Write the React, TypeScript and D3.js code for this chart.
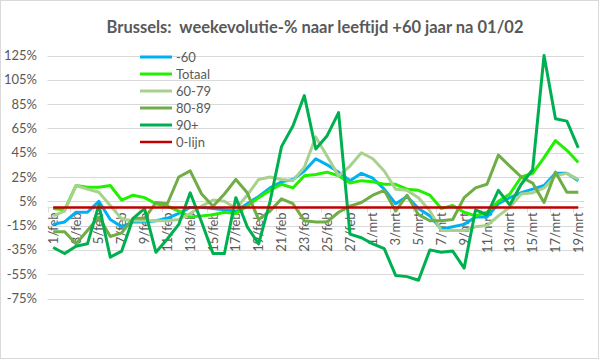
import React from 'react';
import * as d3 from 'd3';

// dates on the category axis
const categories = [
  '1/feb', '2/feb', '3/feb', '4/feb', '5/feb', '6/feb', '7/feb', '8/feb', '9/feb', '10/feb',
  '11/feb', '12/feb', '13/feb', '14/feb', '15/feb', '16/feb', '17/feb', '18/feb', '19/feb', '20/feb',
  '21/feb', '22/feb', '23/feb', '24/feb', '25/feb', '26/feb', '27/feb', '28/feb',
  '1/mrt', '2/mrt', '3/mrt', '4/mrt', '5/mrt', '6/mrt', '7/mrt', '8/mrt', '9/mrt', '10/mrt',
  '11/mrt', '12/mrt', '13/mrt', '14/mrt', '15/mrt', '16/mrt', '17/mrt', '18/mrt', '19/mrt'
];

// week evolution in %
const min60 = [-14, -12, -4, -4, 5, -10, -16, -12, -12, -11, -9, -5, 0, 0, -1, -2, -3, 3, 9, 16, 21, 23, 30, 40, 35, 29, 22, 28, 24, 15, 3, 9, -1, -7, -18, -16, -14, -8, -8, 3, 8, 12, 15, 18, 28, 28, 22];
const totaal = [-1, -2, 18, 16.5, 16.5, 18, 6, 10, 8, 3, 1, -3, -8, -7, -6, -4, -5, 1, 8, 14, 19, 16, 26, 27, 29, 26, 20, 22, 21, 19, 19, 15, 14, 10, -1, 1.5, -4, -7, -4, 5, 11, 25, 28, 41, 55, 47, 37];
const age6079 = [-7, -3, 18, 15, 12.5, 1.5, -9.5, -11, -11, -11, -11, -10, -5, 1, 6, 5, -1, 10, 23, 25, 23, 22, 33, 58, 42, 26, 34, 45, 40, 30, 15, 14, 8, -3, -19, -19, -19, -16, -15, -7, 0, 11, 12, 16, 26, 28, 23];
const age8089 = [-20, -20, -30, -19, -8, -24, -21, -9, -9, 4, 3, 25, 30, 11, 1, 11, 23, 12, -10, -3, 7, 3, -11, -12, -12, -4, 1, 4, 10, 14, -3, 10, -6, -11, -11, -10, 8, 16, 19, 43, 34, 25, 20, 4, 29, 12.5, 12.5];
const age90plus = [-33, -38, -32, -30, 2, -41, -36, -9, -1, -37, -26, -14, 12, -12, -38, -38, 8, -16, -30, 5, 50, 67, 92, 48, 59, 78, -22, -25, -30, -34, -56, -57, -60, -35, -37, -36, -50, -2, -6, 14, 2, 19, 31, 125, 73, 71, 49];
const nulLijn = [0, 0, 0, 0, 0, 0, 0, 0, 0, 0, 0, 0, 0, 0, 0, 0, 0, 0, 0, 0, 0, 0, 0, 0, 0, 0, 0, 0, 0, 0, 0, 0, 0, 0, 0, 0, 0, 0, 0, 0, 0, 0, 0, 0, 0, 0, 0];

const yTicks = [125, 105, 85, 65, 45, 25, 5, -15, -35, -55, -75];

const series = [
  { name: '-60', values: min60, color: '#00B0F0', w: 3 },
  { name: 'Totaal', values: totaal, color: '#22F000', w: 3 },
  { name: '60-79', values: age6079, color: '#A9D18E', w: 3 },
  { name: '80-89', values: age8089, color: '#70AD47', w: 3 },
  { name: '90+', values: age90plus, color: '#00B050', w: 3 },
  { name: '0-lijn', values: nulLijn, color: '#C00000', w: 2.5 },
];

const W = 599;
const H = 359;
const font = 'Lato, "Open Sans", sans-serif';
const textColor = '#595959';

export default function App() {
  const x = d3.scaleBand<string>().domain(categories).range([47.5, 584]).paddingInner(0).paddingOuter(0);
  const y = d3.scaleLinear().domain([-75, 125]).range([298.5, 55.5]);
  const cx = (c: string) => (x(c) as number) + x.bandwidth() / 2;

  const line = d3.line<number>()
    .x((_, i) => cx(categories[i]))
    .y(v => y(v));

  const y0 = y(0);

  return (
    <svg width={W} height={H} style={{ position: 'absolute', left: 0, top: 0 }} fontFamily={font}>
      <rect x={0.5} y={0.5} width={W - 1} height={H - 1} fill="#fff" stroke="#D9D9D9" />

      <text x={315} y={33} textAnchor="middle" fontSize={16.5} fontWeight="bold" fill={textColor} style={{ whiteSpace: 'pre' }}>
        {'Brussels:  weekevolutie-% naar leeftijd +60 jaar na 01/02'}
      </text>

      {/* gridlines and y labels */}
      {yTicks.map(t => (
        <g key={t}>
          <line x1={47.5} x2={584} y1={Math.round(y(t)) + 0.5} y2={Math.round(y(t)) + 0.5} stroke="#D9D9D9" />
          <text x={37} y={y(t)} dy="0.35em" textAnchor="end" fontSize={13} fill={textColor}>{t}%</text>
        </g>
      ))}

      {/* category axis at 0 */}
      <line x1={47.5} x2={584} y1={y0} y2={y0} stroke="#D9D9D9" />
      {categories.map((c, i) => i % 2 === 0 ? (
        <line key={'t' + c} x1={Math.round(x(c) as number) + 0.5} x2={Math.round(x(c) as number) + 0.5} y1={y0} y2={y0 + 5} stroke="#D9D9D9" />
      ) : null)}
      {categories.map((c, i) => i % 2 === 0 ? (
        <text key={'l' + c} transform={`translate(${cx(c)},${y0 + 5}) rotate(-90)`} dy="0.35em"
          textAnchor="end" fontSize={13} fill={textColor}>{c}</text>
      ) : null)}

      {/* series */}
      {series.map(s => (
        <path key={s.name} d={line(s.values) || ''} fill="none" stroke={s.color} strokeWidth={s.w} strokeLinejoin="round" />
      ))}

      {/* legend */}
      {series.map((s, i) => (
        <g key={'lg' + s.name} transform={`translate(140,${57 + i * 17})`}>
          <line x1={0} x2={32} y1={0} y2={0} stroke={s.color} strokeWidth={s.w} />
          <text x={36} y={0} dy="0.35em" fontSize={13} fill={textColor}>{s.name}</text>
        </g>
      ))}
    </svg>
  );
}
